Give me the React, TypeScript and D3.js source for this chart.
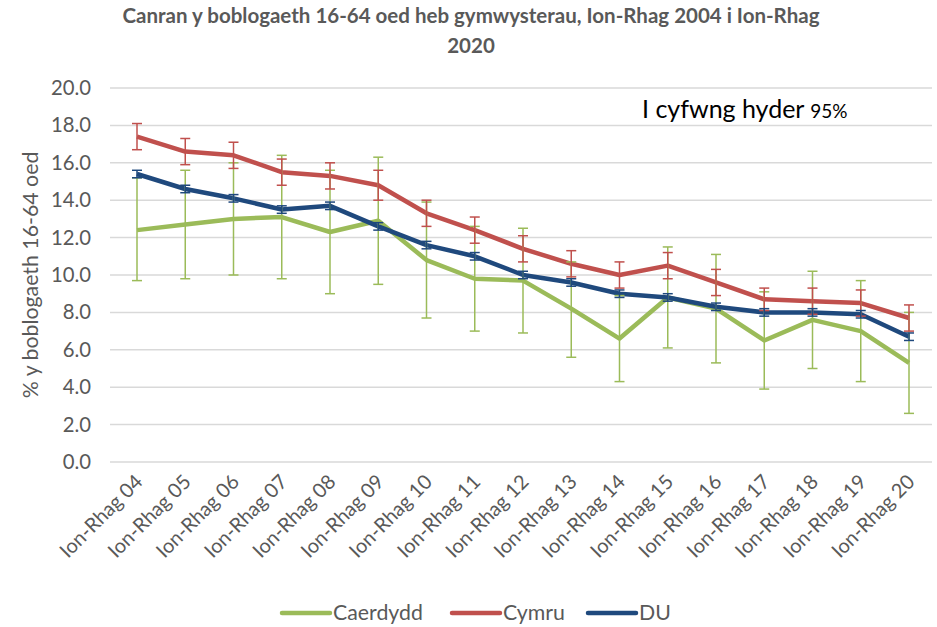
import React from "react";
import * as d3 from "d3";

const categories = ["Ion-Rhag 04","Ion-Rhag 05","Ion-Rhag 06","Ion-Rhag 07","Ion-Rhag 08","Ion-Rhag 09","Ion-Rhag 10","Ion-Rhag 11","Ion-Rhag 12","Ion-Rhag 13","Ion-Rhag 14","Ion-Rhag 15","Ion-Rhag 16","Ion-Rhag 17","Ion-Rhag 18","Ion-Rhag 19","Ion-Rhag 20"];

const caerdydd = [12.4,12.7,13.0,13.1,12.3,12.9,10.8,9.8,9.7,8.2,6.6,8.8,8.2,6.5,7.6,7.0,5.3];
const caerdyddLow = [9.7,9.8,10.0,9.8,9.0,9.5,7.7,7.0,6.9,5.6,4.3,6.1,5.3,3.9,5.0,4.3,2.6];
const caerdyddHigh = [15.2,15.6,16.0,16.4,15.6,16.3,13.9,12.6,12.5,10.7,8.9,11.5,11.1,9.1,10.2,9.7,8.0];

const cymru = [17.4,16.6,16.4,15.5,15.3,14.8,13.3,12.4,11.4,10.6,10.0,10.5,9.6,8.7,8.6,8.5,7.7];
const cymruLow = [16.7,15.9,15.7,14.8,14.6,14.0,12.6,11.7,10.7,9.9,9.3,9.8,8.9,8.1,7.9,7.8,7.0];
const cymruHigh = [18.1,17.3,17.1,16.2,16.0,15.6,14.0,13.1,12.1,11.3,10.7,11.2,10.3,9.3,9.3,9.2,8.4];

const du = [15.4,14.6,14.1,13.5,13.7,12.6,11.6,11.0,10.0,9.6,9.0,8.8,8.3,8.0,8.0,7.9,6.7];
const duLow = [15.2,14.4,13.9,13.3,13.5,12.4,11.4,10.8,9.8,9.4,8.8,8.6,8.1,7.8,7.8,7.7,6.5];
const duHigh = [15.6,14.8,14.3,13.7,13.9,12.8,11.8,11.2,10.2,9.8,9.2,9.0,8.5,8.2,8.2,8.1,6.9];

const yTicks = [0,2,4,6,8,10,12,14,16,18,20];

const W = 937, H = 627;
const FONT = "Lato, 'Open Sans', sans-serif";

export default function App() {
  const x = d3.scalePoint<string>().domain(categories).range([137, 909]);
  const y = d3.scaleLinear().domain([0, 20]).range([462, 88]);
  const line = d3.line<number>().x((_, i) => x(categories[i])!).y(d => y(d));

  const series = [
    { name: "Caerdydd", color: "#9BBB59", v: caerdydd, lo: caerdyddLow, hi: caerdyddHigh },
    { name: "Cymru", color: "#C0504D", v: cymru, lo: cymruLow, hi: cymruHigh },
    { name: "DU", color: "#1F497D", v: du, lo: duLow, hi: duHigh },
  ];
  const legendX = [282, 452, 588];

  return (
    <svg width={W} height={H} style={{ position: "absolute", left: 0, top: 0 }} fontFamily={FONT}>
      <rect width={W} height={H} fill="#fff" />
      <text x={471} y={23} textAnchor="middle" fontSize={20.5} fontWeight="bold" fill="#595959">
        Canran y boblogaeth 16-64 oed heb gymwysterau, Ion-Rhag 2004 i Ion-Rhag
      </text>
      <text x={471} y={53} textAnchor="middle" fontSize={20.5} fontWeight="bold" fill="#595959">2020</text>
      {yTicks.map(t => (
        <g key={t}>
          <line x1={110} x2={932} y1={y(t)} y2={y(t)} stroke="#D9D9D9" strokeWidth={1.5} />
          <text x={91} y={y(t) + 7} textAnchor="end" fontSize={20.3} fill="#595959">{t.toFixed(1)}</text>
        </g>
      ))}
      <text transform={`translate(38,275) rotate(-90)`} textAnchor="middle" fontSize={21.3} fill="#595959">% y boblogaeth 16-64 oed</text>
      {categories.map(c => (
        <text key={c} transform={`translate(${x(c)! + 7},${483}) rotate(-45)`} textAnchor="end" fontSize={20} fill="#595959">{c}</text>
      ))}
      {series.map(s => (
        <g key={s.name}>
          <path d={line(s.v)!} fill="none" stroke={s.color} strokeWidth={4.5} strokeLinejoin="round" />
        </g>
      ))}
      {series.map(s => (
        <g key={s.name + "e"} stroke={s.color} strokeWidth={1.5}>
          {categories.map((c, i) => {
            const cx = x(c)!;
            return (
              <g key={c}>
                <line x1={cx} x2={cx} y1={y(s.lo[i])} y2={y(s.hi[i])} />
                <line x1={cx - 5} x2={cx + 5} y1={y(s.lo[i])} y2={y(s.lo[i])} />
                <line x1={cx - 5} x2={cx + 5} y1={y(s.hi[i])} y2={y(s.hi[i])} />
              </g>
            );
          })}
        </g>
      ))}
      <text x={642} y={118} fontSize={25} fill="#000">
        I cyfwng hyder <tspan fontSize={19}>95%</tspan>
      </text>
      {series.map((s, i) => (
        <g key={s.name + "l"}>
          <line x1={legendX[i]} x2={legendX[i] + 48} y1={613} y2={613} stroke={s.color} strokeWidth={4.5} strokeLinecap="round" />
          <text x={legendX[i] + 51} y={620} fontSize={21.3} fill="#595959">{s.name}</text>
        </g>
      ))}
    </svg>
  );
}
